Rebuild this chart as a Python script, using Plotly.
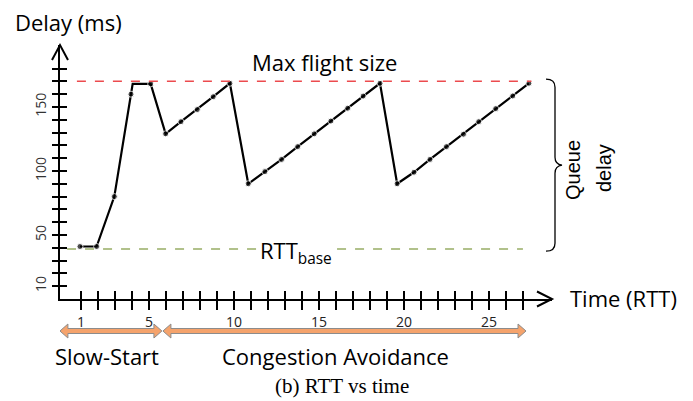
import plotly.graph_objects as go

# ---- data ----
time_rtt = [0.94, 1.92, 2.96, 3.94, 4.04, 5.10, 5.98, 6.88, 7.84, 8.78, 9.76,
            10.84, 11.82, 12.80, 13.75, 14.72, 15.70, 16.69, 17.60, 18.59,
            19.60, 20.59, 21.53, 22.50, 23.50, 24.40, 25.40, 26.40, 27.35]
delay_ms = [41, 41, 80, 160, 168, 168, 129, 138.5, 148, 158, 168.5,
            90, 99.5, 109, 119, 129, 139, 149, 158.5, 168.5,
            90, 99, 109, 119, 128.7, 138.5, 148.7, 158.6, 168.5]
has_dot = [True, True, True, True, False, True, True, True, True, True, True,
           True, True, True, True, True, True, True, True, True,
           True, True, True, True, True, True, True, True, True]

max_flight = 170
rtt_base = 39
max_line_span = [0.76, 27.5]
base_line_span = [0.18, 27.0]

x_tickvals = list(range(1, 28))
x_ticklabels = {1: "1", 5: "5", 10: "10", 15: "15", 20: "20", 25: "25"}
y_tickvals = list(range(10, 190, 10))
y_ticklabels = {10: "10", 50: "50", 100: "100", 150: "150"}

slow_start_span = [-0.24, 5.76]
cong_avoid_span = [5.82, 27.18]

X_RANGE = [-0.235, 28.71]
Y_RANGE = [0, 198.4]

FONT = "Open Sans"
BIG = 22

fig = go.Figure()

fig.add_trace(go.Scatter(
    x=time_rtt, y=delay_ms, mode="lines+markers",
    line=dict(color="black", width=2.2),
    marker=dict(color="black", size=[6 if d else 0 for d in has_dot]),
    showlegend=False, hoverinfo="skip"))

# empty trace to carry the overlay axes (inside tick marks)
fig.add_trace(go.Scatter(x=[], y=[], xaxis="x2", yaxis="y2",
                         showlegend=False, hoverinfo="skip"))

shapes = []
# reference lines
shapes.append(dict(type="line", xref="x", yref="y",
                   x0=max_line_span[0], x1=max_line_span[1], y0=max_flight, y1=max_flight,
                   line=dict(color="#EC4B4E", width=1.5, dash="dash")))
shapes.append(dict(type="line", xref="x", yref="y",
                   x0=base_line_span[0], x1=base_line_span[1], y0=rtt_base, y1=rtt_base,
                   line=dict(color="#98AD66", width=1.5, dash="dash")))

# axis arrow heads
shapes.append(dict(type="path", xref="paper", yref="paper", xsizemode="pixel", ysizemode="pixel",
                   xanchor=1, yanchor=0, path="M -15,7.5 L 0,0 L -15,-7.5",
                   line=dict(color="black", width=2)))
shapes.append(dict(type="path", xref="paper", yref="paper", xsizemode="pixel", ysizemode="pixel",
                   xanchor=0, yanchor=1, path="M -8,-15 L 0,0 L 8,-15",
                   line=dict(color="black", width=2)))

# brace for queue delay
shapes.append(dict(type="path", xref="paper", yref="y", xsizemode="pixel", ysizemode="pixel",
                   xanchor=1, yanchor=(max_flight + rtt_base) / 2,
                   path="M -6,86 Q 3,86 3,78 L 3,8 Q 3,1 10,0 Q 3,-1 3,-8 L 3,-78 Q 3,-86 -6,-86",
                   line=dict(color="black", width=1.3)))

# phase arrows
def phase_arrow(span):
    L = (span[1] - span[0]) * 17.0
    p = (f"M 0,0 L 8,7 L 8,2.5 L {L-8:.1f},2.5 L {L-8:.1f},7 L {L:.1f},0 "
         f"L {L-8:.1f},-7 L {L-8:.1f},-2.5 L 8,-2.5 L 8,-7 Z")
    return dict(type="path", xref="x", yref="paper", xsizemode="pixel", ysizemode="pixel",
                xanchor=span[0], yanchor=-0.126, path=p,
                fillcolor="#F5A36C", line=dict(color="#8C8C8C", width=1))

shapes.append(phase_arrow(slow_start_span))
shapes.append(phase_arrow(cong_avoid_span))

annotations = [
    dict(text="Delay (ms)", xref="paper", yref="paper", x=-0.0955, y=1.0906,
         xanchor="left", yanchor="middle", showarrow=False,
         font=dict(family=FONT, size=BIG, color="black")),
    dict(text="Time (RTT)", xref="paper", yref="paper", x=1.0325, y=0.004,
         xanchor="left", yanchor="middle", showarrow=False,
         font=dict(family=FONT, size=BIG, color="black")),
    dict(text="Max flight size", xref="x", yref="y", x=15.35, y=185,
         xanchor="center", yanchor="middle", showarrow=False,
         font=dict(family=FONT, size=BIG, color="black")),
    dict(text="RTT<sub>base</sub>", xref="x", yref="y", x=13.65, y=rtt_base - 2,
         xanchor="center", yanchor="middle", showarrow=False, bgcolor="white",
         font=dict(family=FONT, size=BIG, color="black")),
    dict(text="Queue", xref="paper", yref="paper", x=(573 - 60) / 492, y=(299 - 170) / 254,
         xanchor="center", yanchor="middle", showarrow=False, textangle=-90,
         font=dict(family="Liberation Sans", size=20, color="black")),
    dict(text="delay", xref="paper", yref="paper", x=(604 - 60) / 492, y=(299 - 168) / 254,
         xanchor="center", yanchor="middle", showarrow=False, textangle=-90,
         font=dict(family="Liberation Sans", size=20, color="black")),
    dict(text="Slow-Start", xref="paper", yref="paper", x=0.0955, y=-0.2244,
         xanchor="center", yanchor="middle", showarrow=False,
         font=dict(family=FONT, size=BIG, color="black")),
    dict(text="Congestion Avoidance", xref="paper", yref="paper", x=0.559, y=-0.2244,
         xanchor="center", yanchor="middle", showarrow=False,
         font=dict(family=FONT, size=BIG, color="black")),
    dict(text="(b) RTT vs time", xref="paper", yref="paper", x=0.573, y=-0.3425,
         xanchor="center", yanchor="middle", showarrow=False,
         font=dict(family="Liberation Serif", size=21, color="black")),
]

fig.update_layout(
    width=693, height=401,
    margin=dict(l=60, r=141, t=45, b=102),
    paper_bgcolor="white", plot_bgcolor="white",
    font=dict(family=FONT, color="black"),
    xaxis=dict(range=X_RANGE, showgrid=False, zeroline=False,
               showline=True, linecolor="black", linewidth=2,
               ticks="outside", ticklen=9, tickwidth=1.5, tickcolor="black",
               tickvals=x_tickvals, ticktext=[x_ticklabels.get(v, "") for v in x_tickvals],
               tickfont=dict(family=FONT, size=14, color="#222")),
    yaxis=dict(range=Y_RANGE, showgrid=False, zeroline=False,
               showline=True, linecolor="black", linewidth=2,
               ticks="outside", ticklen=6, tickwidth=1.5, tickcolor="black",
               tickvals=y_tickvals, ticktext=[y_ticklabels.get(v, "") for v in y_tickvals],
               tickangle=-90,
               tickfont=dict(family=FONT, size=14, color="#333")),
    xaxis2=dict(range=X_RANGE, overlaying="x", anchor="y", side="bottom",
                showgrid=False, zeroline=False, showline=False,
                ticks="inside", ticklen=8, tickwidth=1.5, tickcolor="black",
                tickvals=x_tickvals, showticklabels=False),
    yaxis2=dict(range=Y_RANGE, overlaying="y", anchor="x", side="left",
                showgrid=False, zeroline=False, showline=False,
                ticks="inside", ticklen=7, tickwidth=1.5, tickcolor="black",
                tickvals=y_tickvals, showticklabels=False),
    shapes=shapes,
    annotations=annotations,
)

fig.write_html("out.html", config={"displayModeBar": False},
               post_script="document.body.style.margin='0';document.body.style.overflow='hidden';")
